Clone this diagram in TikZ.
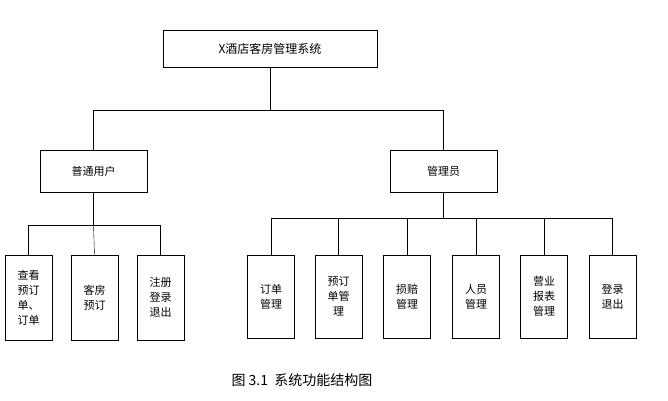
\documentclass[tikz,border=0pt]{standalone}
\usepackage{fontspec}
\newfontfamily\cjk{Noto Sans CJK SC}
\usetikzlibrary{positioning}
\tikzset{
    box/.style = {draw, thin, align=center, font=\cjk\fontsize{11}{15}\selectfont, inner sep=1pt},
    link/.style = {draw, thin}
}
\begin{document}
\begin{tikzpicture}[x=1pt,y=-1pt]
        \useasboundingbox (0,0) rectangle (668,400);
        \node[box, minimum width=214pt, minimum height=37pt, font=\cjk\fontsize{12}{15}\selectfont] (system) at (270,48.5) {X酒店客房管理系统};
        \node[box, minimum width=107pt, minimum height=42pt] (user) at (93.5,171) {普通用户};
        \node[box, minimum width=107pt, minimum height=42pt] (admin) at (443.5,171) {管理员};
        % user functions
        \node[box, minimum width=47pt, minimum height=85pt] (query) at (28.5,297.5) {查看\\预订\\单、\\订单};
        \node[box, minimum width=47pt, minimum height=85pt] (book) at (94.5,297.5) {客房\\预订};
        \node[box, minimum width=47pt, minimum height=85pt] (login) at (160.5,297.5) {注册\\登录\\退出};
        % admin functions
        \foreach \n/\x/\t in {order/271/订单\\管理, reserve/338.5/预订\\单管\\理, damage/407/损赔\\管理,
                staff/476/人员\\管理, revenue/544/营业\\报表\\管理, logout/612.5/登录\\退出}
            \node[box, minimum width=47pt, minimum height=83pt] (\n) at (\x,296.5) {\t};
        % connectors
        \path[link] (system.south) -- ++(0,43) coordinate (top);
        \path[link] (user.north) |- (top) -| (admin.north);
        \path[link] (user.south) -- ++(0,33) coordinate (ubus);
        \path[link] (query.north) |- (ubus) -| (login.north);
        \path[link] (ubus) -- (book.north);
        \path[link] (admin.south) -- ++(0,26) coordinate (abus);
        \path[link] (order.north) |- (abus) -| (logout.north);
        \foreach \n in {reserve,damage,staff,revenue}
            \path[link] (\n.north) -- (\n.north |- abus);
        \node[font=\cjk\fontsize{14}{16}\selectfont] (caption) at (302,380) {图 3.1\ \ 系统功能结构图};
\end{tikzpicture}
\end{document}
